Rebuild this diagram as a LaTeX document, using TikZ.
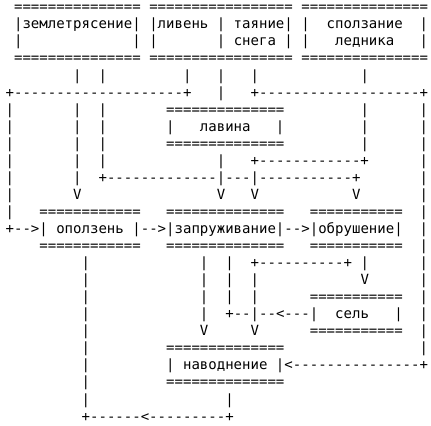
\documentclass[tikz,border=0pt]{standalone}
\usepackage{fontspec}
\setmonofont{DejaVu Sans Mono}
\usepackage{tikz}

\tikzset{
  asc/.style={font=\ttfamily\fontsize{14.04}{17.06}\selectfont, inner sep=0pt, outer sep=0pt, anchor=base west},
}

\begin{document}
\begin{tikzpicture}[x=8.453pt, y=-17.06pt]
  \useasboundingbox (-0.663,0.308) rectangle (50.343,25.279);

  % Верхние блоки: причины
  \foreach \r/\s in {1/t, 4/b} {
    \node[asc] (zem-\s) at (1,\r) {===============};
    \node[asc] (liv-\s) at (17,\r) {=================};
    \node[asc] (led-\s) at (35,\r) {===============};
  }
  \node[asc] (zem) at (1,2) {|землетрясение|};
  \node[asc] (liv) at (17,2) {|ливень | таяние|};
  \node[asc] (led) at (35,2) {|~~сползание~~|};
  \node[asc] (zem-l) at (1,3) {|};
  \node[asc] (zem-r) at (15,3) {|};
  \node[asc] (liv-l) at (17,3) {|};
  \node[asc] (sneg) at (25,3) {| снега |};
  \node[asc] (lednik) at (35,3) {|~~~ледника~~~|};

  % Лавина
  \foreach \r/\s in {7/t, 9/b}
    \node[asc] (lav-\s) at (19,\r) {==============};
  \node[asc] (lav) at (19,8) {|~~~лавина~~~|};

  % Средний ряд
  \foreach \r/\s in {13/t, 15/b} {
    \node[asc] (opo-\s) at (4,\r) {============};
    \node[asc] (zap-\s) at (19,\r) {==============};
    \node[asc] (obr-\s) at (36,\r) {===========};
  }
  \node[asc] (in-opo) at (0,14) {+-->};
  \node[asc] (opo) at (4,14) {| оползень |};
  \node[asc] (in-zap) at (16,14) {-->};
  \node[asc] (zap) at (19,14) {|запруживание|};
  \node[asc] (in-obr) at (33,14) {-->};
  \node[asc] (obr) at (36,14) {|обрушение|};

  % Сель
  \foreach \r/\s in {18/t, 20/b}
    \node[asc] (sel-\s) at (36,\r) {===========};
  \node[asc] (sel) at (36,19) {|~~сель~~~|};
  \node[asc] (out-sel) at (26,19) {+--|--<---};

  % Наводнение
  \foreach \r/\s in {21/t, 23/b}
    \node[asc] (nav-\s) at (19,\r) {==============};
  \node[asc] (nav) at (19,22) {| наводнение |};
  \node[asc] (in-nav) at (33,22) {<---------------+};

  % Горизонтальные линии
  \node[asc] (h6a) at (0,6) {+--------------------+};
  \node[asc] (h6b) at (29,6) {+-------------------+};
  \node[asc] (h10) at (29,10) {+------------+};
  \node[asc] (h11) at (11,11) {+-------------|---|-----------+};
  \node[asc] (h16) at (29,16) {+----------+};
  \node[asc] (h25) at (9,25) {+------<---------+};

  % Вертикальные линии
  \foreach \c/\a/\b in {0/7/13, 8/7/11, 11/7/10, 42/7/9, 49/7/21, 9/16/24, 23/16/19, 26/16/18, 29/17/18}
    \foreach \r in {\a,...,\b}
      \node[asc] (v-\c-\r) at (\c,\r) {|};
  \foreach \c/\r in {8/5, 11/5, 21/5, 25/5, 29/5, 42/5, 25/6, 25/10, 42/16, 26/24}
    \node[asc] (v-\c-\r) at (\c,\r) {|};

  % Стрелки вниз
  \foreach \c/\r in {8/12, 25/12, 29/12, 41/12, 42/17, 23/20, 29/20}
    \node[asc] (a-\c-\r) at (\c,\r) {V};
\end{tikzpicture}
\end{document}
